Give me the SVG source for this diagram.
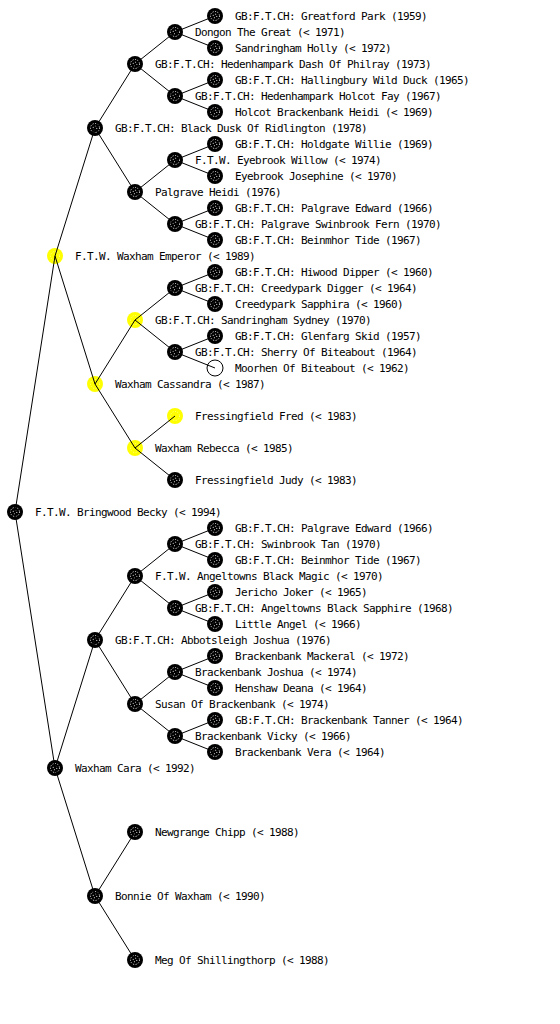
<svg xmlns="http://www.w3.org/2000/svg" width="560" height="1024" viewBox="0 0 560 1024">
<defs>
<style>
text{font-family:"DejaVu Sans Mono","Liberation Mono",monospace;font-size:11px;letter-spacing:-0.62px;fill:#000}
.n{fill:#000}
.y{fill:#ffff00}
.d{fill:none;stroke:#fff;stroke-width:1;stroke-dasharray:1 1.6}
.dy{fill:none;stroke:#ffff99;stroke-width:1;stroke-dasharray:1 1.6}
.o{fill:none;stroke:#000;stroke-width:1}
#connectors line{stroke:#000;stroke-width:1}
</style>
<g id="blk"><circle class="n" r="8"/><circle class="d" r="4.5"/><circle class="d" r="1.8"/></g>
<g id="yel"><circle class="y" r="8"/><circle class="dy" r="4.5"/></g>
</defs>
<rect width="560" height="1024" fill="#fff"/>
<g id="nodes">
<g id="n-becky"><use href="#blk" x="15" y="512"/><text x="35" y="516">F.T.W. Bringwood Becky (&lt; 1994)</text></g>
<g id="n-emperor"><use href="#yel" x="55" y="256"/><text x="75" y="260">F.T.W. Waxham Emperor (&lt; 1989)</text></g>
<g id="n-cara"><use href="#blk" x="55" y="768"/><text x="75" y="772">Waxham Cara (&lt; 1992)</text></g>
<g id="n-blackdusk"><use href="#blk" x="95" y="128"/><text x="115" y="132">GB:F.T.CH: Black Dusk Of Ridlington (1978)</text></g>
<g id="n-cassandra"><use href="#yel" x="95" y="384"/><text x="115" y="388">Waxham Cassandra (&lt; 1987)</text></g>
<g id="n-abbotsleigh"><use href="#blk" x="95" y="640"/><text x="115" y="644">GB:F.T.CH: Abbotsleigh Joshua (1976)</text></g>
<g id="n-bonnie"><use href="#blk" x="95" y="896"/><text x="115" y="900">Bonnie Of Waxham (&lt; 1990)</text></g>
<g id="n-dash"><use href="#blk" x="135" y="64"/><text x="155" y="68">GB:F.T.CH: Hedenhampark Dash Of Philray (1973)</text></g>
<g id="n-palgraveheidi"><use href="#blk" x="135" y="192"/><text x="155" y="196">Palgrave Heidi (1976)</text></g>
<g id="n-sydney"><use href="#yel" x="135" y="320"/><text x="155" y="324">GB:F.T.CH: Sandringham Sydney (1970)</text></g>
<g id="n-rebecca"><use href="#yel" x="135" y="448"/><text x="155" y="452">Waxham Rebecca (&lt; 1985)</text></g>
<g id="n-blackmagic"><use href="#blk" x="135" y="576"/><text x="155" y="580">F.T.W. Angeltowns Black Magic (&lt; 1970)</text></g>
<g id="n-susan"><use href="#blk" x="135" y="704"/><text x="155" y="708">Susan Of Brackenbank (&lt; 1974)</text></g>
<g id="n-newgrange"><use href="#blk" x="135" y="832"/><text x="155" y="836">Newgrange Chipp (&lt; 1988)</text></g>
<g id="n-meg"><use href="#blk" x="135" y="960"/><text x="155" y="964">Meg Of Shillingthorp (&lt; 1988)</text></g>
<g id="n-dongon"><use href="#blk" x="175" y="32"/><text x="195" y="36">Dongon The Great (&lt; 1971)</text></g>
<g id="n-holcotfay"><use href="#blk" x="175" y="96"/><text x="195" y="100">GB:F.T.CH: Hedenhampark Holcot Fay (1967)</text></g>
<g id="n-willow"><use href="#blk" x="175" y="160"/><text x="195" y="164">F.T.W. Eyebrook Willow (&lt; 1974)</text></g>
<g id="n-swinbrookfern"><use href="#blk" x="175" y="224"/><text x="195" y="228">GB:F.T.CH: Palgrave Swinbrook Fern (1970)</text></g>
<g id="n-digger"><use href="#blk" x="175" y="288"/><text x="195" y="292">GB:F.T.CH: Creedypark Digger (&lt; 1964)</text></g>
<g id="n-sherry"><use href="#blk" x="175" y="352"/><text x="195" y="356">GB:F.T.CH: Sherry Of Biteabout (1964)</text></g>
<g id="n-fred"><use href="#yel" x="175" y="416"/><text x="195" y="420">Fressingfield Fred (&lt; 1983)</text></g>
<g id="n-judy"><use href="#blk" x="175" y="480"/><text x="195" y="484">Fressingfield Judy (&lt; 1983)</text></g>
<g id="n-swinbrooktan"><use href="#blk" x="175" y="544"/><text x="195" y="548">GB:F.T.CH: Swinbrook Tan (1970)</text></g>
<g id="n-sapphire"><use href="#blk" x="175" y="608"/><text x="195" y="612">GB:F.T.CH: Angeltowns Black Sapphire (1968)</text></g>
<g id="n-bbjoshua"><use href="#blk" x="175" y="672"/><text x="195" y="676">Brackenbank Joshua (&lt; 1974)</text></g>
<g id="n-vicky"><use href="#blk" x="175" y="736"/><text x="195" y="740">Brackenbank Vicky (&lt; 1966)</text></g>
<g id="n-greatford"><use href="#blk" x="215" y="16"/><text x="235" y="20">GB:F.T.CH: Greatford Park (1959)</text></g>
<g id="n-holly"><use href="#blk" x="215" y="48"/><text x="235" y="52">Sandringham Holly (&lt; 1972)</text></g>
<g id="n-hallingbury"><use href="#blk" x="215" y="80"/><text x="235" y="84">GB:F.T.CH: Hallingbury Wild Duck (1965)</text></g>
<g id="n-holcotheidi"><use href="#blk" x="215" y="112"/><text x="235" y="116">Holcot Brackenbank Heidi (&lt; 1969)</text></g>
<g id="n-holdgate"><use href="#blk" x="215" y="144"/><text x="235" y="148">GB:F.T.CH: Holdgate Willie (1969)</text></g>
<g id="n-josephine"><use href="#blk" x="215" y="176"/><text x="235" y="180">Eyebrook Josephine (&lt; 1970)</text></g>
<g id="n-edward1"><use href="#blk" x="215" y="208"/><text x="235" y="212">GB:F.T.CH: Palgrave Edward (1966)</text></g>
<g id="n-tide1"><use href="#blk" x="215" y="240"/><text x="235" y="244">GB:F.T.CH: Beinmhor Tide (1967)</text></g>
<g id="n-hiwood"><use href="#blk" x="215" y="272"/><text x="235" y="276">GB:F.T.CH: Hiwood Dipper (&lt; 1960)</text></g>
<g id="n-sapphira"><use href="#blk" x="215" y="304"/><text x="235" y="308">Creedypark Sapphira (&lt; 1960)</text></g>
<g id="n-glenfarg"><use href="#blk" x="215" y="336"/><text x="235" y="340">GB:F.T.CH: Glenfarg Skid (1957)</text></g>
<g id="n-moorhen"><circle class="o" cx="215" cy="368" r="8"/><text x="235" y="372">Moorhen Of Biteabout (&lt; 1962)</text></g>
<g id="n-edward2"><use href="#blk" x="215" y="528"/><text x="235" y="532">GB:F.T.CH: Palgrave Edward (1966)</text></g>
<g id="n-tide2"><use href="#blk" x="215" y="560"/><text x="235" y="564">GB:F.T.CH: Beinmhor Tide (1967)</text></g>
<g id="n-jericho"><use href="#blk" x="215" y="592"/><text x="235" y="596">Jericho Joker (&lt; 1965)</text></g>
<g id="n-littleangel"><use href="#blk" x="215" y="624"/><text x="235" y="628">Little Angel (&lt; 1966)</text></g>
<g id="n-mackeral"><use href="#blk" x="215" y="656"/><text x="235" y="660">Brackenbank Mackeral (&lt; 1972)</text></g>
<g id="n-henshaw"><use href="#blk" x="215" y="688"/><text x="235" y="692">Henshaw Deana (&lt; 1964)</text></g>
<g id="n-tanner"><use href="#blk" x="215" y="720"/><text x="235" y="724">GB:F.T.CH: Brackenbank Tanner (&lt; 1964)</text></g>
<g id="n-vera"><use href="#blk" x="215" y="752"/><text x="235" y="756">Brackenbank Vera (&lt; 1964)</text></g>
</g>
<g id="connectors">
<line x1="15" y1="512" x2="55" y2="256"/>
<line x1="15" y1="512" x2="55" y2="768"/>
<line x1="55" y1="256" x2="95" y2="128"/>
<line x1="55" y1="256" x2="95" y2="384"/>
<line x1="55" y1="768" x2="95" y2="640"/>
<line x1="55" y1="768" x2="95" y2="896"/>
<line x1="95" y1="128" x2="135" y2="64"/>
<line x1="95" y1="128" x2="135" y2="192"/>
<line x1="95" y1="384" x2="135" y2="320"/>
<line x1="95" y1="384" x2="135" y2="448"/>
<line x1="95" y1="640" x2="135" y2="576"/>
<line x1="95" y1="640" x2="135" y2="704"/>
<line x1="95" y1="896" x2="135" y2="832"/>
<line x1="95" y1="896" x2="135" y2="960"/>
<line x1="135" y1="64" x2="175" y2="32"/>
<line x1="135" y1="64" x2="175" y2="96"/>
<line x1="135" y1="192" x2="175" y2="160"/>
<line x1="135" y1="192" x2="175" y2="224"/>
<line x1="135" y1="320" x2="175" y2="288"/>
<line x1="135" y1="320" x2="175" y2="352"/>
<line x1="135" y1="448" x2="175" y2="416"/>
<line x1="135" y1="448" x2="175" y2="480"/>
<line x1="135" y1="576" x2="175" y2="544"/>
<line x1="135" y1="576" x2="175" y2="608"/>
<line x1="135" y1="704" x2="175" y2="672"/>
<line x1="135" y1="704" x2="175" y2="736"/>
<line x1="175" y1="32" x2="215" y2="16"/>
<line x1="175" y1="32" x2="215" y2="48"/>
<line x1="175" y1="96" x2="215" y2="80"/>
<line x1="175" y1="96" x2="215" y2="112"/>
<line x1="175" y1="160" x2="215" y2="144"/>
<line x1="175" y1="160" x2="215" y2="176"/>
<line x1="175" y1="224" x2="215" y2="208"/>
<line x1="175" y1="224" x2="215" y2="240"/>
<line x1="175" y1="288" x2="215" y2="272"/>
<line x1="175" y1="288" x2="215" y2="304"/>
<line x1="175" y1="352" x2="215" y2="336"/>
<line x1="175" y1="352" x2="215" y2="368"/>
<line x1="175" y1="544" x2="215" y2="528"/>
<line x1="175" y1="544" x2="215" y2="560"/>
<line x1="175" y1="608" x2="215" y2="592"/>
<line x1="175" y1="608" x2="215" y2="624"/>
<line x1="175" y1="672" x2="215" y2="656"/>
<line x1="175" y1="672" x2="215" y2="688"/>
<line x1="175" y1="736" x2="215" y2="720"/>
<line x1="175" y1="736" x2="215" y2="752"/>
</g>
</svg>
